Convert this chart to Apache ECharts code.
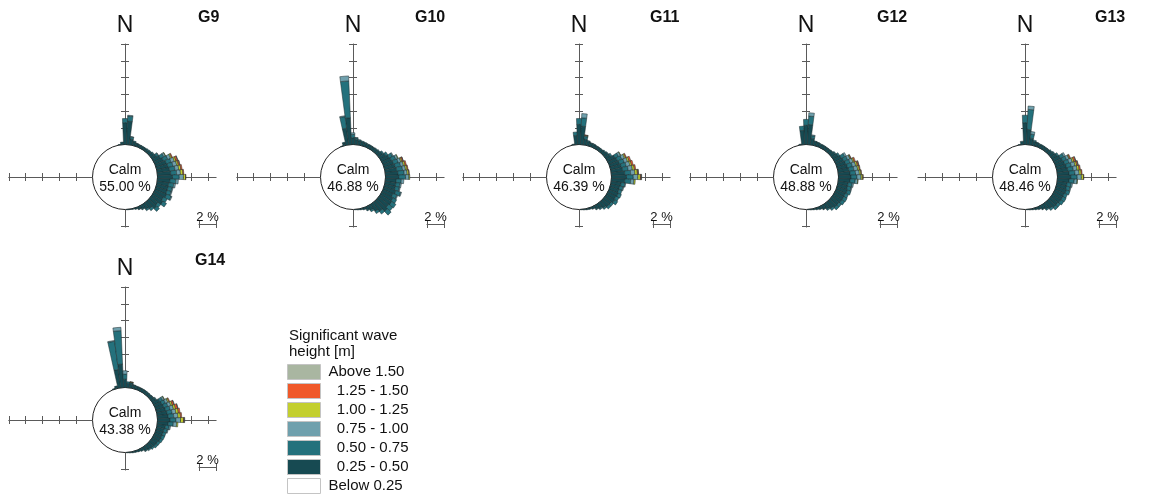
<!DOCTYPE html>
<html><head><meta charset="utf-8">
<script src="https://cdn.jsdelivr.net/npm/echarts@6/dist/echarts.min.js"></script>
<style>html,body{margin:0;padding:0;background:#fff}#c{width:1151px;height:496px}</style>
</head><body><div id="c"></div>
<script>
// ---------------- DATA ----------------
const directions = [0,5,10,15,20,25,30,35,40,45,50,55,60,65,70,75,80,85,90,95,100,105,110,115,
  120,125,130,135,140,145,150,155,160,165,170,175,180,185,190,195,200,205,210,215,220,225,230,235,
  240,245,250,255,260,265,270,275,280,285,290,295,300,305,310,315,320,325,330,335,340,345,350,355];
const WINDOW_START = 330; // every series array below starts at 330° and runs clockwise to 185° (44 bins of 5°)
const stations = ['G9','G10','G11','G12','G13','G14'];
const calmPct = ['55.00 %','46.88 %','46.39 %','48.88 %','48.46 %','43.38 %'];
const classNames = ['0.25 - 0.50','0.50 - 0.75','0.75 - 1.00','1.00 - 1.25','1.25 - 1.50','Above 1.50'];
const legendOrder = ['Above 1.50','1.25 - 1.50','1.00 - 1.25','0.75 - 1.00','0.50 - 0.75','0.25 - 0.50','Below 0.25'];
const scaleTickLabels = ['2 %'];

//            330..355                    0..25                        30..55                        60..85                        90..115                       120..145                      150..175                      180,185
const G9_a  = [0,0,0,0,0.05,0.3,          2.6,2.8,0.7,0.45,0.35,0.3,   0.3,0.3,0.3,0.35,0.45,0.6,    0.9,1.1,1.3,1.4,1.5,1.6,      1.8,1.5,1.4,1.4,1.4,1.5,      1.3,1.5,1.1,1.3,0.9,0.7,      0.45,0.3,0.2,0.1,0.05,0.05,   0,0];
const G9_b  = [0,0,0,0,0,0,               0.5,0.6,0.25,0.1,0.05,0.05,  0.05,0.05,0.1,0.1,0.1,0.25,   0.45,0.55,0.6,0.6,0.65,0.7,   0.8,0.7,0.6,0.5,0.5,0.6,      0.5,0.5,0.4,0.4,0.3,0.2,      0.1,0.05,0,0,0,0,             0,0];
const G9_c  = [0,0,0,0,0,0,               0,0.1,0.05,0,0,0,            0,0,0,0,0,0.05,               0.2,0.35,0.4,0.45,0.45,0.45,  0.5,0.3,0.2,0.1,0.1,0.1,      0,0,0,0,0,0,                  0,0,0,0,0,0,                  0,0];
const G9_d  = [0,0,0,0,0,0,               0,0,0,0,0,0,                 0,0,0,0,0,0,                  0.05,0.15,0.2,0.2,0.25,0.3,   0.25,0,0,0,0,0,               0,0,0,0,0,0,                  0,0,0,0,0,0,                  0,0];
const G9_e  = [0,0,0,0,0,0,               0,0,0,0,0,0,                 0,0,0,0,0,0,                  0,0.1,0.2,0.15,0.15,0.1,      0.05,0,0,0,0,0,               0,0,0,0,0,0,                  0,0,0,0,0,0,                  0,0];
const G9_f  = [0,0,0,0,0,0,               0,0,0,0,0,0,                 0,0,0,0,0,0,                  0,0,0.05,0.05,0,0,            0,0,0,0,0,0,                  0,0,0,0,0,0,                  0,0,0,0,0,0,                  0,0];

const G10_a = [0,0,0.05,0.3,2.0,3.2,      0.8,0.6,0.5,0.45,0.4,0.4,    0.4,0.4,0.4,0.45,0.6,0.8,     1.0,1.1,1.2,1.3,1.4,1.5,      1.6,1.3,1.3,1.3,1.5,1.3,      1.5,1.6,1.5,1.7,1.3,1.0,      0.6,0.4,0.25,0.15,0.1,0.05,   0,0];
const G10_b = [0,0,0,0.1,1.4,4.4,         0.4,0.2,0.15,0.1,0.1,0.05,   0.05,0.05,0.1,0.1,0.15,0.25,  0.45,0.55,0.6,0.65,0.7,0.75,  0.8,0.6,0.5,0.5,0.6,0.5,      0.5,0.6,0.6,0.6,0.4,0.3,      0.2,0.1,0,0,0,0,              0,0];
const G10_c = [0,0,0,0,0.1,0.6,           0.2,0.05,0,0,0,0,            0,0,0,0,0,0,                  0.1,0.25,0.3,0.35,0.35,0.35,  0.4,0.3,0.15,0.1,0.1,0.1,     0,0,0,0,0,0,                  0,0,0,0,0,0,                  0,0];
const G10_d = [0,0,0,0,0,0,               0,0,0,0,0,0,                 0,0,0,0,0,0,                  0,0.05,0.15,0.2,0.2,0.2,      0.1,0,0,0,0,0,                0,0,0,0,0,0,                  0,0,0,0,0,0,                  0,0];
const G10_e = [0,0,0,0,0,0,               0,0,0,0,0,0,                 0,0,0,0,0,0,                  0,0,0.15,0.15,0.1,0.05,       0,0,0,0,0,0,                  0,0,0,0,0,0,                  0,0,0,0,0,0,                  0,0];
const G10_f = [0,0,0,0,0,0,               0,0,0,0,0,0,                 0,0,0,0,0,0,                  0,0,0.03,0,0,0,               0,0,0,0,0,0,                  0,0,0,0,0,0,                  0,0,0,0,0,0,                  0,0];

const G11_a = [0,0,0,0,0.1,1.1,           2.4,2.2,0.7,0.5,0.4,0.4,     0.35,0.35,0.35,0.4,0.5,0.6,   1.0,1.1,1.2,1.3,1.4,1.6,      1.8,1.6,1.2,1.1,1.1,1.2,      1.1,1.2,1.0,1.0,0.8,0.6,      0.45,0.3,0.2,0.15,0.1,0.05,   0,0];
const G11_b = [0,0,0,0,0,0.4,             0.7,1.0,0.3,0.1,0.05,0.05,   0.05,0.05,0.05,0.1,0.1,0.2,   0.45,0.55,0.6,0.6,0.65,0.7,   0.8,0.7,0.45,0.4,0.4,0.4,     0.4,0.4,0.3,0.3,0.2,0.15,     0.1,0,0,0,0,0,                0,0];
const G11_c = [0,0,0,0,0,0,               0,0.5,0.1,0,0,0,             0,0,0,0,0,0,                  0.25,0.35,0.4,0.45,0.5,0.5,   0.55,0.4,0.1,0.1,0,0,         0,0,0,0,0,0,                  0,0,0,0,0,0,                  0,0];
const G11_d = [0,0,0,0,0,0,               0,0,0.05,0,0,0,              0,0,0,0,0,0,                  0.05,0.15,0.2,0.2,0.25,0.3,   0.3,0.15,0,0,0,0,             0,0,0,0,0,0,                  0,0,0,0,0,0,                  0,0];
const G11_e = [0,0,0,0,0,0,               0,0,0.05,0,0,0,              0,0,0,0,0,0,                  0,0.1,0.2,0.2,0.15,0.1,       0.1,0,0,0,0,0,                0,0,0,0,0,0,                  0,0,0,0,0,0,                  0,0];
const G11_f = [0,0,0,0,0,0,               0,0,0,0,0,0,                 0,0,0,0,0,0,                  0,0,0,0,0,0.05,               0.05,0,0,0,0,0,               0,0,0,0,0,0,                  0,0,0,0,0,0,                  0,0];

const G12_a = [0,0,0,0,0.1,1.7,           2.3,2.4,0.8,0.5,0.45,0.4,    0.4,0.4,0.4,0.45,0.55,0.7,    0.9,1.0,1.1,1.2,1.3,1.4,      1.5,1.4,1.2,1.2,1.3,1.2,      1.2,1.2,1.1,1.1,0.9,0.7,      0.5,0.35,0.25,0.15,0.1,0.05,  0,0];
const G12_b = [0,0,0,0,0,0.5,             0.7,1.0,0.3,0.05,0.05,0.05,  0.05,0.05,0.05,0.05,0.1,0.2,  0.45,0.5,0.55,0.6,0.6,0.65,   0.7,0.6,0.5,0.45,0.45,0.4,    0.45,0.4,0.35,0.35,0.25,0.15, 0.05,0,0,0,0,0,               0,0];
const G12_c = [0,0,0,0,0,0,               0,0.4,0.1,0,0,0,             0,0,0,0,0,0,                  0.2,0.3,0.35,0.4,0.45,0.45,   0.5,0.3,0.15,0.1,0,0,         0,0,0,0,0,0,                  0,0,0,0,0,0,                  0,0];
const G12_d = [0,0,0,0,0,0,               0,0,0,0,0,0,                 0,0,0,0,0,0,                  0,0.1,0.15,0.2,0.2,0.2,       0.2,0.05,0,0,0,0,             0,0,0,0,0,0,                  0,0,0,0,0,0,                  0,0];
const G12_e = [0,0,0,0,0,0,               0,0,0,0,0,0,                 0,0,0,0,0,0,                  0,0.05,0.15,0.15,0.1,0.05,    0.05,0,0,0,0,0,               0,0,0,0,0,0,                  0,0,0,0,0,0,                  0,0];
const G12_f = [0,0,0,0,0,0,               0,0,0,0,0,0,                 0,0,0,0,0,0,                  0,0,0,0.05,0,0,               0,0,0,0,0,0,                  0,0,0,0,0,0,                  0,0,0,0,0,0,                  0,0];

const G13_a = [0,0,0,0,0.05,0.4,          2.6,1.8,0.8,0.5,0.45,0.4,    0.4,0.4,0.4,0.45,0.55,0.7,    0.9,1.0,1.1,1.2,1.3,1.4,      1.6,1.4,1.2,1.2,1.3,1.2,      1.2,1.2,1.1,1.1,0.9,0.7,      0.5,0.35,0.25,0.15,0.1,0.05,  0,0];
const G13_b = [0,0,0,0,0,0,               0.9,2.4,0.5,0.15,0.05,0.05,  0.05,0.05,0.05,0.1,0.1,0.2,   0.45,0.5,0.55,0.6,0.65,0.7,   0.75,0.6,0.5,0.45,0.45,0.4,   0.45,0.4,0.35,0.35,0.25,0.15, 0.05,0,0,0,0,0,               0,0];
const G13_c = [0,0,0,0,0,0,               0,0.4,0.3,0,0,0,             0,0,0,0,0,0,                  0.2,0.3,0.4,0.45,0.45,0.5,    0.5,0.35,0.15,0.1,0,0,        0,0,0,0,0,0,                  0,0,0,0,0,0,                  0,0];
const G13_d = [0,0,0,0,0,0,               0,0,0,0,0,0,                 0,0,0,0,0,0,                  0,0.1,0.2,0.2,0.25,0.25,      0.25,0.05,0,0,0,0,            0,0,0,0,0,0,                  0,0,0,0,0,0,                  0,0];
const G13_e = [0,0,0,0,0,0,               0,0,0,0,0,0,                 0,0,0,0,0,0,                  0,0.1,0.2,0.15,0.15,0.1,      0.05,0,0,0,0,0,               0,0,0,0,0,0,                  0,0,0,0,0,0,                  0,0];
const G13_f = [0,0,0,0,0,0,               0,0,0,0,0,0,                 0,0,0,0,0,0,                  0,0,0.05,0.05,0,0,            0,0,0,0,0,0,                  0,0,0,0,0,0,                  0,0,0,0,0,0,                  0,0];

const G14_a = [0,0,0.1,0.3,2.2,2.8,       1.0,0.5,0.45,0.4,0.35,0.35,  0.35,0.35,0.35,0.35,0.4,0.5,  0.8,0.9,1.0,1.1,1.2,1.3,      1.5,1.3,1.0,0.9,0.9,0.9,      0.9,0.8,0.8,0.7,0.6,0.5,      0.35,0.25,0.2,0.15,0.1,0.05,  0,0];
const G14_b = [0,0,0,0,3.4,4.0,           0.6,0.2,0.15,0.05,0.05,0.05, 0.05,0.05,0.05,0.05,0.05,0.1, 0.4,0.45,0.5,0.55,0.6,0.65,   0.7,0.6,0.45,0.4,0.35,0.35,   0.3,0.3,0.25,0.2,0.15,0.1,    0,0,0,0,0,0,                  0,0];
const G14_c = [0,0,0,0,0.1,0.4,           0.4,0,0.05,0,0,0,            0,0,0,0,0,0,                  0.2,0.3,0.35,0.4,0.45,0.5,    0.55,0.4,0.15,0.1,0,0,        0,0,0,0,0,0,                  0,0,0,0,0,0,                  0,0];
const G14_d = [0,0,0,0,0,0,               0,0,0.05,0,0,0,              0,0,0,0,0,0,                  0.05,0.15,0.2,0.25,0.3,0.3,   0.35,0.15,0,0,0,0,            0,0,0,0,0,0,                  0,0,0,0,0,0,                  0,0];
const G14_e = [0,0,0,0,0,0,               0,0,0.03,0,0,0,              0,0,0,0,0,0,                  0,0.1,0.2,0.25,0.2,0.15,      0.1,0,0,0,0,0,                0,0,0,0,0,0,                  0,0,0,0,0,0,                  0,0];
const G14_f = [0,0,0,0,0,0,               0,0,0,0,0,0,                 0,0,0,0,0,0,                  0,0,0.05,0.05,0,0,            0.05,0,0,0,0,0,               0,0,0,0,0,0,                  0,0,0,0,0,0,                  0,0];

// ---------------- STYLE / LAYOUT ----------------
const classColors = ['#174a52','#24717c','#6fa0ad','#c3cf2f','#f0592a','#a9b6a1'];
const FONT = '"Liberation Sans", Arial, sans-serif';
const R0 = 32.5;      // calm circle radius (px)
const PX = 8.375;     // px per percent
const centers = [[125,177],[353,177],[579,177],[806,177],[1025,177],[125,420]];
const titleX = [198,415,650,877,1095,195];
const leftArm = [10,10,10,10,8.9,10];
const AXIS_COLOR = '#5a5a5a';

const roseClasses = {
  G9:[G9_a,G9_b,G9_c,G9_d,G9_e,G9_f], G10:[G10_a,G10_b,G10_c,G10_d,G10_e,G10_f],
  G11:[G11_a,G11_b,G11_c,G11_d,G11_e,G11_f], G12:[G12_a,G12_b,G12_c,G12_d,G12_e,G12_f],
  G13:[G13_a,G13_b,G13_c,G13_d,G13_e,G13_f], G14:[G14_a,G14_b,G14_c,G14_d,G14_e,G14_f]
};
const dirLabels = directions.map(d => d + '°');
function expand(win) {
  const full = directions.map(() => null);
  const s = directions.indexOf(WINDOW_START);
  win.forEach((v, k) => { full[(s + k) % directions.length] = v > 0 ? v : null; });
  return full;
}

const polar = [], angleAxis = [], radiusAxis = [], series = [], graphic = [];
const grid = [], xAxis = [], yAxis = [];
function addPolar(p, a, r) {
  polar.push(p); const idx = polar.length - 1;
  a.polarIndex = idx; r.polarIndex = idx; angleAxis.push(a); radiusAxis.push(r); return idx;
}
const HIDDEN = {show:false};
function tickVals(max, from) { const t = []; for (let v = from; v <= max + 1e-9; v += 2) t.push(v); return t; }
function armAxis(max, position, showLine, inverse, ticks) {
  return {type:'value', min:0, max, interval:2, position, inverse,
    axisLine:{show:showLine, onZero:false, lineStyle:{color:AXIS_COLOR, width:1}},
    axisTick:{show:true, inside:false, length:4, customValues:ticks, lineStyle:{color:AXIS_COLOR, width:1}},
    axisLabel:{show:false}, splitLine:{show:false}};
}
// horizontal arm: a zero-height grid carrying two x axes (ticks up and ticks down)
function hArm(left, width, top, max, inverse, ticks) {
  grid.push({left, top, width, height:0.01, show:false}); const gi = grid.length - 1;
  xAxis.push(Object.assign(armAxis(max, 'bottom', true, inverse, ticks), {gridIndex:gi}));
  xAxis.push(Object.assign(armAxis(max, 'top', false, inverse, ticks), {gridIndex:gi}));
  yAxis.push({type:'value', gridIndex:gi, show:false, min:0, max:1});
}
// vertical arm: a zero-width grid carrying two y axes (ticks left and ticks right)
function vArm(left, top, height, max, inverse, ticks) {
  grid.push({left, top, width:0.01, height, show:false}); const gi = grid.length - 1;
  yAxis.push(Object.assign(armAxis(max, 'left', true, inverse, ticks), {gridIndex:gi}));
  yAxis.push(Object.assign(armAxis(max, 'right', false, inverse, ticks), {gridIndex:gi}));
  xAxis.push({type:'value', gridIndex:gi, show:false, min:0, max:1});
}
function txt(x, y, text, size, weight, align) {
  graphic.push({type:'text', x, y, silent:true, z:50,
    style:{text, fill:'#111', font:`${weight||'normal'} ${size}px ${FONT}`,
      textAlign: align||'center', textVerticalAlign:'middle', align: align||'center', verticalAlign:'middle'}});
}

stations.forEach((st, i) => {
  const [cx, cy] = centers[i];
  // four arms of the cross, measured in % from the calm circle
  vArm(cx, cy - R0 - 12 * PX, 12 * PX, 12, false, tickVals(12, 2));          // north
  vArm(cx, cy + R0, 2.1 * PX, 2.1, true, tickVals(2.1, 2));                  // south
  hArm(cx + R0, 7 * PX, cy, 7, false, tickVals(7, 2));                       // east
  hArm(cx - R0 - leftArm[i] * PX, leftArm[i] * PX, cy, leftArm[i], true, tickVals(leftArm[i], 2)); // west
  // scale bar (2 %)
  hArm(cx + 74, 2 * PX, cy + 47, 2, false, [0, 2]);
  // calm circle
  addPolar({center:[cx, cy], radius:R0},
    {type:'value', min:0, max:360, startAngle:90, axisLine:{show:true, lineStyle:{color:'#222', width:1}},
     axisTick:HIDDEN, axisLabel:HIDDEN, splitLine:HIDDEN},
    {type:'value', min:0, max:1, axisLine:HIDDEN, axisTick:HIDDEN, axisLabel:HIDDEN, splitLine:HIDDEN});
  // data polar
  const pi = addPolar({center:[cx, cy], radius:[R0, R0 + 12 * PX]},
    {type:'category', data:dirLabels, startAngle:92.5, axisLine:HIDDEN, axisTick:HIDDEN,
     axisLabel:HIDDEN, splitLine:HIDDEN},
    {type:'value', min:0, max:12, axisLine:HIDDEN, axisTick:HIDDEN, axisLabel:HIDDEN, splitLine:HIDDEN});
  if (i === 0) {
    series.push({type:'bar', name:'Below 0.25', coordinateSystem:'polar', polarIndex:pi, stack:st,
      barCategoryGap:'0%', data:[], itemStyle:{color:'#ffffff', borderColor:'#bbb'}});
  }
  roseClasses[st].forEach((arr, k) => series.push({
    type:'bar', name:classNames[k], coordinateSystem:'polar', polarIndex:pi, stack:st,
    barCategoryGap:'0%', silent:true, data:expand(arr),
    itemStyle:{color:classColors[k], borderColor:'#1c2a2c', borderWidth:0.5}
  }));
  // texts
  txt(titleX[i], cy - 159, st, 16, 'bold', 'left');
  txt(cx, cy - 151, 'N', 23);
  txt(cx, cy - 7, 'Calm', 14);
  txt(cx, cy + 10, calmPct[i], 14);
  txt(cx + 82.5, cy + 40, scaleTickLabels[0], 13);
});
txt(289, 336, 'Significant wave', 15, 'normal', 'left');
txt(289, 352, 'height [m]', 15, 'normal', 'left');

const chart = echarts.init(document.getElementById('c'), null, {renderer:'canvas'});
chart.setOption({
  animation:false,
  backgroundColor:'#ffffff',
  grid, xAxis, yAxis,
  polar, angleAxis, radiusAxis, series, graphic,
  legend:{
    data:legendOrder, orient:'vertical', left:287, top:364, bottom:0, padding:0, icon:'rect',
    itemWidth:33, itemHeight:15, itemGap:3, selectedMode:false,
    itemStyle:{borderColor:'#c4c4c4', borderWidth:1},
    formatter: n => (n.startsWith('Above') || n.startsWith('Below')) ? n : '  ' + n,
    textStyle:{fontSize:15, lineHeight:13, color:'#111', fontFamily:FONT, padding:[0,0,0,3]}
  }
});
</script></body></html>
